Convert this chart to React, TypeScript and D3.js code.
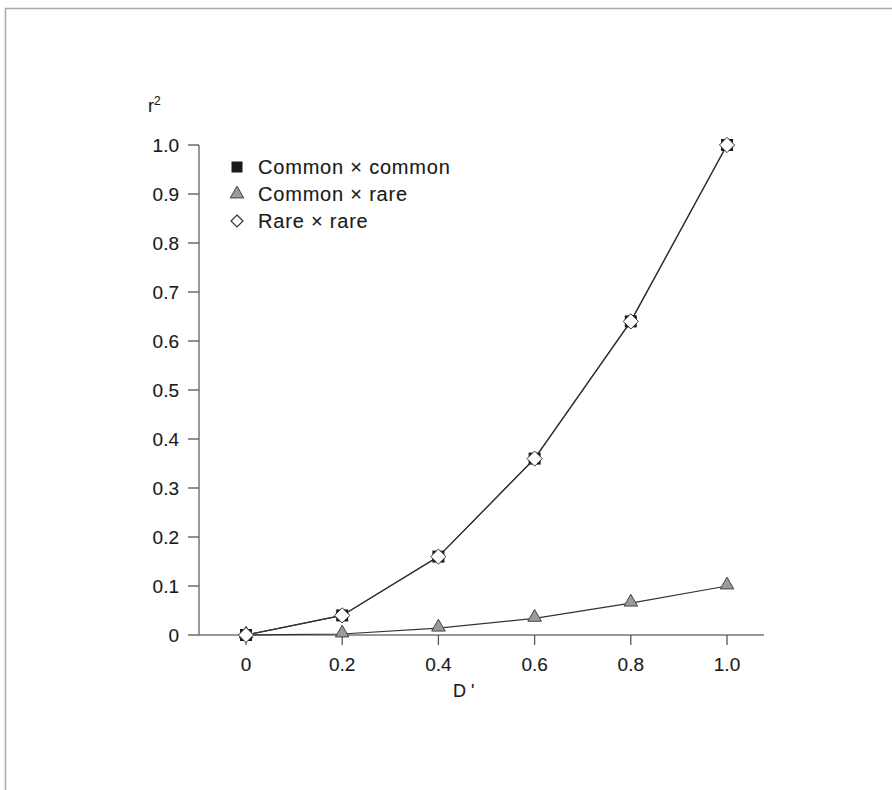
import React from "react";
import * as d3 from "d3";

const dPrime = [0, 0.2, 0.4, 0.6, 0.8, 1.0];
const commonCommon = [0, 0.04, 0.16, 0.36, 0.64, 1.0];
const commonRare = [0, 0.002, 0.014, 0.034, 0.065, 0.1];
const rareRare = [0, 0.04, 0.16, 0.36, 0.64, 1.0];
const yTicks = [0, 0.1, 0.2, 0.3, 0.4, 0.5, 0.6, 0.7, 0.8, 0.9, 1.0];
const xTicks = [0, 0.2, 0.4, 0.6, 0.8, 1.0];
const legendLabels = ["Common × common", "Common × rare", "Rare × rare"];

const W = 892, H = 790;
const FONT = "'Liberation Sans', Arial, Helvetica, sans-serif";
const TXT = "#1a1a1a";

export default function App() {
  const x = d3.scaleLinear().domain([0, 1]).range([246, 727]);
  const y = d3.scaleLinear().domain([0, 1]).range([635, 145]);
  const axisX0 = 199;
  const axisXEnd = 764;
  const line = d3.line<number>().x((_, i) => x(dPrime[i])).y((v) => y(v));
  const fmt = (v: number) => (v === 0 ? "0" : v.toFixed(1));
  const tri = d3.symbol().type(d3.symbolTriangle).size(80)();
  const sq = 12;
  const dia = 7.6;
  const diamondPath = (cx: number, cy: number, r: number) =>
    `M${cx},${cy - r}L${cx + r},${cy}L${cx},${cy + r}L${cx - r},${cy}Z`;
  const textProps = { fontFamily: FONT, fill: TXT, stroke: TXT, strokeWidth: 0.12 };

  return (
    <svg width={W} height={H} style={{ position: "absolute", left: 0, top: 0, background: "#fff" }}>
      <path d={`M5.5,${H}V8.5H${W}`} fill="none" stroke="#a8a8a8" strokeWidth={1.5} />

      <line x1={axisX0} x2={axisX0} y1={y(1)} y2={y(0)} stroke="#777" strokeWidth={1.5} />
      <line x1={axisX0} x2={axisXEnd} y1={y(0)} y2={y(0)} stroke="#777" strokeWidth={1.5} />
      {yTicks.map((t) => (
        <g key={"y" + t}>
          <line x1={axisX0 - 11} x2={axisX0} y1={y(t)} y2={y(t)} stroke="#555" strokeWidth={1.3} />
          <text x={179} y={y(t) + 7} textAnchor="end" fontSize={19} {...textProps}>
            {fmt(t)}
          </text>
        </g>
      ))}
      {xTicks.map((t) => (
        <g key={"x" + t}>
          <line x1={x(t)} x2={x(t)} y1={y(0)} y2={y(0) + 10} stroke="#555" strokeWidth={1.3} />
          <text x={x(t)} y={671} textAnchor="middle" fontSize={19} {...textProps}>
            {fmt(t)}
          </text>
        </g>
      ))}
      <text x={148} y={112} fontSize={18} {...textProps}>
        r<tspan fontSize={12} dy={-7}>2</tspan>
      </text>
      <text x={453} y={697} fontSize={18} {...textProps}>
        D '
      </text>

      <path d={line(commonRare) || ""} fill="none" stroke="#333" strokeWidth={1.2} />
      <path d={line(commonCommon) || ""} fill="none" stroke="#333" strokeWidth={1.2} />
      <path d={line(rareRare) || ""} fill="none" stroke="#333" strokeWidth={1.2} />

      {commonRare.map((v, i) => (
        <path key={"cr" + i} d={tri || ""} transform={`translate(${x(dPrime[i])},${y(v) - 1})`}
          fill="#9a9a9a" stroke="#444" strokeWidth={1} />
      ))}
      {commonCommon.map((v, i) => (
        <rect key={"cc" + i} x={x(dPrime[i]) - sq / 2} y={y(v) - sq / 2} width={sq} height={sq} fill="#1a1a1a" />
      ))}
      {rareRare.map((v, i) => (
        <path key={"rr" + i} d={diamondPath(x(dPrime[i]), y(v), dia)} fill="#fff" stroke="#333" strokeWidth={1} />
      ))}

      {legendLabels.map((lab, i) => {
        const cy = 167 + i * 27;
        return (
          <g key={lab}>
            {i === 0 && <rect x={231.5} y={cy - 5.5} width={11} height={11} fill="#1a1a1a" />}
            {i === 1 && <path d={tri || ""} transform={`translate(237,${cy})`} fill="#9a9a9a" stroke="#444" strokeWidth={1} />}
            {i === 2 && <path d={diamondPath(237, cy, 6)} fill="#fff" stroke="#333" strokeWidth={1.2} />}
            <text x={258} y={cy + 7} fontSize={20} letterSpacing={0.8} {...textProps}>
              {lab}
            </text>
          </g>
        );
      })}
    </svg>
  );
}
